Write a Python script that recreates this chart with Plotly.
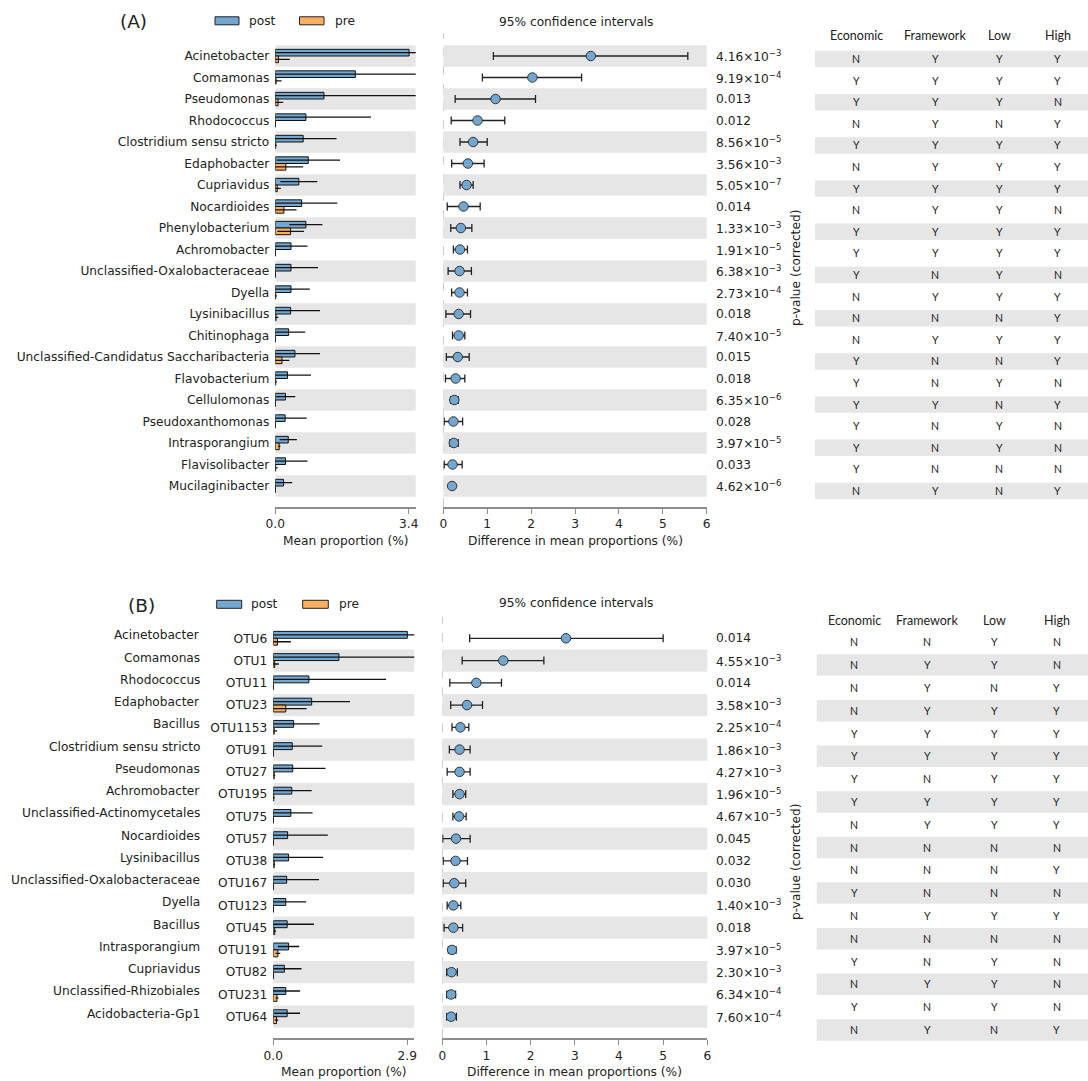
import plotly.graph_objects as go

# ---------------- data: panel A (genus level) ----------------
genus_a = ["Acinetobacter", "Comamonas", "Pseudomonas", "Rhodococcus",
           "Clostridium sensu stricto", "Edaphobacter", "Cupriavidus", "Nocardioides",
           "Phenylobacterium", "Achromobacter", "Unclassified-Oxalobacteraceae", "Dyella",
           "Lysinibacillus", "Chitinophaga", "Unclassified-Candidatus Saccharibacteria",
           "Flavobacterium", "Cellulomonas", "Pseudoxanthomonas", "Intrasporangium",
           "Flavisolibacter", "Mucilaginibacter"]
post_a = [3.41, 2.04, 1.24, 0.78, 0.71, 0.84, 0.60, 0.67, 0.78, 0.40, 0.40,
          0.40, 0.39, 0.34, 0.50, 0.31, 0.26, 0.25, 0.33, 0.26, 0.21]
post_sd_a = [3.50, 2.30, 2.50, 1.66, 0.85, 0.81, 0.47, 0.91, 0.42, 0.42, 0.69,
             0.48, 0.75, 0.42, 0.64, 0.60, 0.25, 0.55, 0.22, 0.56, 0.22]
pre_a = [0.08, 0.02, 0.07, 0.005, 0.01, 0.27, 0.05, 0.22, 0.39, 0.005, 0.005,
         0.01, 0.02, 0.005, 0.17, 0.01, 0.005, 0.005, 0.10, 0.01, 0.005]
pre_sd_a = [0.29, 0.14, 0.13, 0.01, 0.03, 0.44, 0.09, 0.32, 0.34, 0.01, 0.01,
            0.03, 0.06, 0.01, 0.19, 0.03, 0.01, 0.01, 0.03, 0.05, 0.01]
diff_a = [3.36, 2.03, 1.19, 0.78, 0.68, 0.56, 0.53, 0.46, 0.40, 0.38, 0.37,
          0.37, 0.35, 0.35, 0.33, 0.28, 0.25, 0.23, 0.24, 0.21, 0.20]
ci_lo_a = [1.14, 0.89, 0.27, 0.18, 0.38, 0.19, 0.38, 0.09, 0.17, 0.23, 0.11,
           0.19, 0.06, 0.21, 0.07, 0.05, 0.17, 0.02, 0.15, 0.02, 0.15]
ci_hi_a = [5.57, 3.15, 2.10, 1.40, 1.00, 0.93, 0.68, 0.84, 0.65, 0.55, 0.64,
           0.55, 0.62, 0.49, 0.59, 0.49, 0.34, 0.44, 0.34, 0.43, 0.25]
pval_a = [4.16e-3, 9.19e-4, 0.013, 0.012, 8.56e-5, 3.56e-3, 5.05e-7, 0.014,
          1.33e-3, 1.91e-5, 6.38e-3, 2.73e-4, 0.018, 7.40e-5, 0.015, 0.018,
          6.35e-6, 0.028, 3.97e-5, 0.033, 4.62e-6]
economic_a = ["N", "Y", "Y", "N", "Y", "N", "Y", "N", "Y", "Y", "Y", "N", "N", "N", "Y", "Y", "Y", "Y", "Y", "Y", "N"]
framework_a = ["Y", "Y", "Y", "Y", "Y", "Y", "Y", "Y", "Y", "Y", "N", "Y", "N", "Y", "N", "N", "Y", "N", "N", "N", "Y"]
low_a = ["Y", "Y", "Y", "N", "Y", "Y", "Y", "Y", "Y", "Y", "Y", "Y", "N", "Y", "N", "Y", "N", "Y", "Y", "N", "N"]
high_a = ["Y", "Y", "N", "Y", "Y", "Y", "Y", "N", "Y", "Y", "N", "Y", "Y", "Y", "Y", "N", "Y", "N", "N", "N", "Y"]

# ---------------- data: panel B (OTU level) ----------------
genus_b = ["Acinetobacter", "Comamonas", "Rhodococcus", "Edaphobacter", "Bacillus",
           "Clostridium sensu stricto", "Pseudomonas", "Achromobacter",
           "Unclassified-Actinomycetales", "Nocardioides", "Lysinibacillus",
           "Unclassified-Oxalobacteraceae", "Dyella", "Bacillus", "Intrasporangium",
           "Cupriavidus", "Unclassified-Rhizobiales", "Acidobacteria-Gp1"]
otu_b = ["OTU6", "OTU1", "OTU11", "OTU23", "OTU1153", "OTU91", "OTU27", "OTU195",
         "OTU75", "OTU57", "OTU38", "OTU167", "OTU123", "OTU45", "OTU191", "OTU82",
         "OTU231", "OTU64"]
post_b = [2.90, 1.42, 0.77, 0.83, 0.44, 0.41, 0.42, 0.40, 0.38, 0.31, 0.33, 0.29,
          0.27, 0.30, 0.33, 0.24, 0.27, 0.30]
post_sd_b = [3.00, 1.80, 1.67, 0.83, 0.56, 0.65, 0.71, 0.43, 0.47, 0.87, 0.75, 0.70,
             0.44, 0.58, 0.23, 0.37, 0.31, 0.28]
pre_b = [0.09, 0.03, 0.005, 0.27, 0.02, 0.005, 0.02, 0.01, 0.005, 0.005, 0.02, 0.005,
         0.005, 0.03, 0.10, 0.005, 0.08, 0.07]
pre_sd_b = [0.29, 0.09, 0.01, 0.45, 0.06, 0.01, 0.02, 0.02, 0.01, 0.01, 0.02, 0.01,
            0.01, 0.03, 0.05, 0.01, 0.03, 0.04]
diff_b = [2.80, 1.38, 0.77, 0.56, 0.41, 0.39, 0.39, 0.39, 0.38, 0.31, 0.30, 0.27,
          0.25, 0.25, 0.22, 0.21, 0.20, 0.20]
ci_lo_b = [0.62, 0.45, 0.17, 0.19, 0.22, 0.16, 0.11, 0.24, 0.24, 0.01, 0.02, 0.02,
           0.11, 0.04, 0.14, 0.10, 0.10, 0.10]
ci_hi_b = [5.00, 2.30, 1.34, 0.91, 0.60, 0.63, 0.63, 0.53, 0.54, 0.63, 0.57, 0.53,
           0.42, 0.46, 0.31, 0.34, 0.30, 0.32]
pval_b = [0.014, 4.55e-3, 0.014, 3.58e-3, 2.25e-4, 1.86e-3, 4.27e-3, 1.96e-5,
          4.67e-5, 0.045, 0.032, 0.030, 1.40e-3, 0.018, 3.97e-5, 2.30e-3,
          6.34e-4, 7.60e-4]
economic_b = ["N", "N", "N", "N", "Y", "Y", "Y", "Y", "N", "N", "N", "Y", "N", "N", "Y", "N", "Y", "N"]
framework_b = ["N", "Y", "Y", "Y", "Y", "Y", "N", "Y", "Y", "N", "N", "N", "Y", "N", "N", "Y", "N", "Y"]
low_b = ["Y", "Y", "N", "Y", "Y", "Y", "Y", "Y", "Y", "N", "N", "N", "Y", "N", "Y", "Y", "Y", "N"]
high_b = ["N", "N", "Y", "Y", "Y", "Y", "Y", "Y", "Y", "N", "Y", "N", "Y", "N", "N", "N", "N", "Y"]

table_cols = ["Economic", "Framework", "Low", "High"]

# ---------------- styling ----------------
W, H = 1088, 1081
BLUE = "#72a7d1"
ORANGE = "#fdae61"
SHADE = "#e6e6e6"
AXIS = "#8c8c8c"
TXT = "#222222"
FONT = "DejaVu Sans"
TFONT = "Lato"
FS = 12.2


def fx(p):
    return p / W


def fy(p):
    return 1 - p / H


def fmt_p(p):
    if p >= 0.01:
        return "%.3f" % p
    exp = 0
    m = p
    while m < 1:
        m *= 10
        exp -= 1
    return "%.2f×10<sup>−%d</sup>" % (m, -exp)


fig = go.Figure()
shapes = []
annos = []


def note(x, y, text, xref="paper", yref="paper", xanchor="center", size=FS,
         family=FONT, **kw):
    annos.append(dict(x=x, y=y, xref=xref, yref=yref, text=text, xanchor=xanchor,
                      yanchor="middle", showarrow=False,
                      font=dict(size=size, color=TXT, family=family), **kw))


def panel(ax_l, ax_m, n, row0, pitch, top, base, left_px, tick_val, tick_px,
          mid_px, shade_odd, post, post_sd, pre, pre_sd, diff, lo, hi, pvals,
          ticklabels, pval_x, tbl, tbl_row0, tbl_pitch, tbl_band, tbl_head_y,
          tbl_xs, tbl_x0, legend_y, legend_x, tag, tag_x, title_y, ylabel_y):
    rows = list(range(n))
    xl, yl = ("x" if ax_l == 1 else "x%d" % ax_l), ("y" if ax_l == 1 else "y%d" % ax_l)
    xm, ym = "x%d" % ax_m, "y%d" % ax_m
    yrange = [(base - row0) / pitch, -(row0 - top) / pitch]
    xmax_l = tick_val * (left_px[1] - left_px[0]) / (tick_px - left_px[0])

    # grouped bars: post on top, pre below
    fig.add_trace(go.Bar(
        x=post, y=rows, orientation="h", xaxis=xl, yaxis=yl, name="post",
        marker=dict(color=BLUE, line=dict(color="#111", width=1)),
        error_x=dict(type="data", array=post_sd, color="#111", thickness=1.3, width=0),
        showlegend=False))
    fig.add_trace(go.Bar(
        x=pre, y=rows, orientation="h", xaxis=xl, yaxis=yl, name="pre",
        marker=dict(color=ORANGE, line=dict(color="#111", width=1)),
        error_x=dict(type="data", array=pre_sd, color="#111", thickness=1.3, width=0),
        showlegend=False))

    # difference in mean proportions with 95% CI
    fig.add_trace(go.Scatter(
        x=diff, y=rows, mode="markers", xaxis=xm, yaxis=ym,
        marker=dict(size=9.5, color=BLUE, line=dict(color="#333", width=1)),
        error_x=dict(type="data", symmetric=False,
                     array=[h - d for h, d in zip(hi, diff)],
                     arrayminus=[d - l for d, l in zip(diff, lo)],
                     color="#222", thickness=1.3, width=4),
        showlegend=False))

    common_y = dict(range=yrange, showgrid=False, zeroline=False, showline=False,
                    ticks="", automargin=False)
    fig.update_layout(**{
        ("xaxis" if ax_l == 1 else "xaxis%d" % ax_l): dict(
            domain=[fx(left_px[0]), fx(left_px[1])], range=[0, xmax_l], anchor=yl,
            tickvals=[0, tick_val], ticktext=["0.0", "%.1f" % tick_val],
            ticks="outside", ticklen=5, tickcolor=AXIS, tickwidth=1.2,
            showline=True, linecolor=AXIS, linewidth=1.5, showgrid=False,
            zeroline=False, tickfont=dict(size=FS, color=TXT), automargin=False),
        ("yaxis" if ax_l == 1 else "yaxis%d" % ax_l): dict(
            domain=[fy(base), fy(top)], anchor=xl, tickvals=rows, ticktext=ticklabels,
            tickfont=dict(size=FS, color=TXT), ticklabelstandoff=5, **common_y),
        "xaxis%d" % ax_m: dict(
            domain=[fx(mid_px[0]), fx(mid_px[1])], range=[0, 6], anchor=ym,
            tickvals=[0, 1, 2, 3, 4, 5, 6], ticks="outside", ticklen=5,
            tickcolor=AXIS, tickwidth=1.2, showline=True, linecolor=AXIS,
            linewidth=1.5, showgrid=False, zeroline=False,
            tickfont=dict(size=FS, color=TXT), automargin=False),
        "yaxis%d" % ax_m: dict(domain=[fy(base), fy(top)], anchor=xm,
                               showticklabels=False, **common_y),
    })

    # dashed zero line under the row shading
    shapes.append(dict(type="line", xref=xm, yref=ym + " domain", x0=0, x1=0,
                       y0=0, y1=1, line=dict(color="#aaaaaa", width=1, dash="dash"),
                       layer="below"))
    for i in rows:
        if (i % 2 == 1) == shade_odd:
            for xr, yr in ((xl, yl), (xm, ym)):
                shapes.append(dict(type="rect", xref=xr + " domain", yref=yr,
                                   x0=0, x1=1, y0=i - 0.5, y1=i + 0.5,
                                   fillcolor=SHADE, line=dict(width=0), layer="below"))
        note(fx(pval_x), i, fmt_p(pvals[i]), yref=ym, xanchor="left")

    # axis titles and headers
    note(fx((left_px[0] + left_px[1]) / 2), fy(base + 34), "Mean proportion (%)")
    note(fx((mid_px[0] + mid_px[1]) / 2), fy(base + 34), "Difference in mean proportions (%)")
    note(fx(575.5), fy(title_y), "95% confidence intervals")
    note(fx(796), fy(ylabel_y), "p-value (corrected)", textangle=-90)
    note(fx(tag_x), fy(legend_y + 1), tag, size=18.5)

    # legend patches
    for (x0, x1, tx), col, lab in zip(legend_x, (BLUE, ORANGE), ("post", "pre")):
        shapes.append(dict(type="rect", xref="paper", yref="paper", x0=fx(x0), x1=fx(x1),
                           y0=fy(legend_y + 4), y1=fy(legend_y - 4), fillcolor=col,
                           line=dict(color="#222", width=1)))
        note(fx(tx), fy(legend_y), lab, xanchor="left")

    # side table
    for j, name in enumerate(table_cols):
        note(fx(tbl_xs[j]), fy(tbl_head_y), name, size=12.5, family=TFONT)
    for i in rows:
        cy = tbl_row0 + tbl_pitch * i
        if (i % 2 == 1) == shade_odd:
            shapes.append(dict(type="rect", xref="paper", yref="paper", x0=fx(tbl_x0),
                               x1=1, y0=fy(cy + tbl_band / 2), y1=fy(cy - tbl_band / 2),
                               fillcolor=SHADE, line=dict(width=0), layer="below"))
        for j, col in enumerate(tbl):
            note(fx(tbl_xs[j]), fy(cy), col[i], size=10.5, family=TFONT)


panel(1, 2, 21, 56.0, 21.5, 33.0, 507.0, (275.3, 415.7), 3.4, 408.7, (443.3, 706.7),
      False, post_a, post_sd_a, pre_a, pre_sd_a, diff_a, ci_lo_a, ci_hi_a, pval_a,
      genus_a, 713.5, [economic_a, framework_a, low_a, high_a], 59.0, 21.6, 16.5, 36.0,
      (856, 935, 999.3, 1057.7), 815, 20.8, ((215, 239, 247), (299.5, 324, 333)),
      "(A)", 133.5, 22.0, 268.0)

panel(3, 4, 18, 638.3, 22.26, 616.7, 1038.3, (273.3, 414.3), 2.9, 407.3, (442.3, 707.3),
      True, post_b, post_sd_b, pre_b, pre_sd_b, diff_b, ci_lo_b, ci_hi_b, pval_b,
      otu_b, 714.3, [economic_b, framework_b, low_b, high_b], 642.3, 22.8, 21.5, 620.0,
      (854.3, 927.3, 994.3, 1056.7), 816.7, 604.3, ((216.7, 241.7, 249), (302.7, 328.3, 337)),
      "(B)", 141.0, 603.3, 862.0)

# genus names next to the OTU identifiers
for i, g in enumerate(genus_b):
    note(fx(202), i, g, yref="y3", xanchor="right", yshift=3)

fig.update_layout(
    template="none", width=W, height=H, margin=dict(l=0, r=0, t=0, b=0),
    paper_bgcolor="white", plot_bgcolor="rgba(0,0,0,0)",
    barmode="group", bargap=0.38, bargroupgap=0.0,
    font=dict(family=FONT, size=FS, color=TXT),
    shapes=shapes, annotations=annos, showlegend=False,
)

fig.write_html("out.html")
